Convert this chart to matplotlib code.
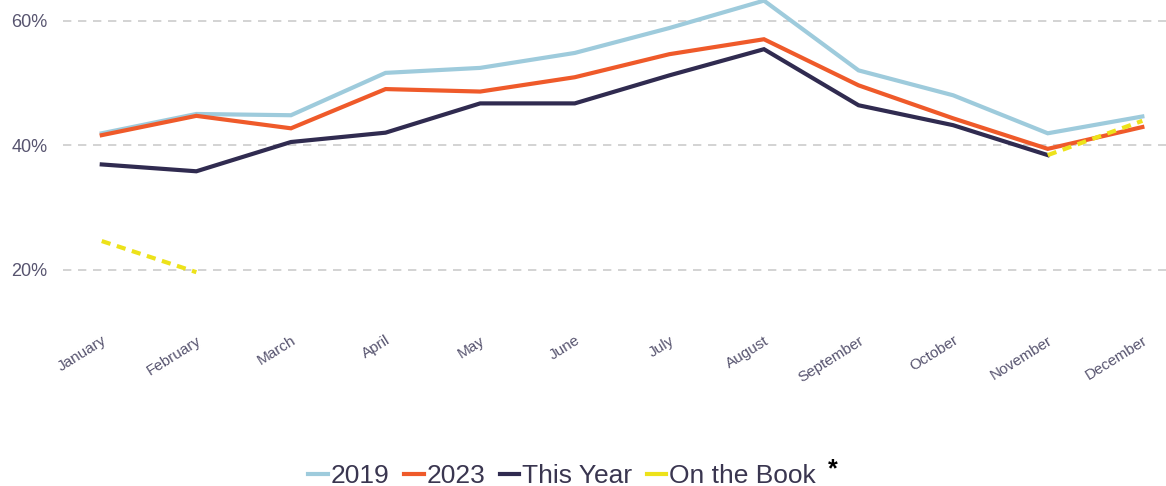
import numpy as np
import matplotlib
matplotlib.use('Agg')
import matplotlib.pyplot as plt
from matplotlib.lines import Line2D

# Monthly values (percent)
months = ["January", "February", "March", "April", "May", "June",
          "July", "August", "September", "October", "November", "December"]
y2019 = [41.9, 45.0, 44.8, 51.6, 52.4, 54.8, 58.8, 63.2, 52.0, 48.0, 41.9, 44.6]
y2023 = [41.6, 44.7, 42.7, 49.0, 48.6, 50.9, 54.6, 57.0, 49.6, 44.3, 39.4, 42.9]
this_year = [36.9, 35.8, 40.5, 42.0, 46.7, 46.7, 51.2, 55.4, 46.4, 43.2, 38.4, np.nan]
on_the_book = [24.6, 19.6, np.nan, np.nan, np.nan, np.nan,
               np.nan, np.nan, np.nan, np.nan, 38.4, 43.9]
y_ticks = [20, 40, 60]

text_color = '#57546f'
plt.rcParams['font.family'] = ['Liberation Sans', 'DejaVu Sans']

fig = plt.figure(figsize=(11.66, 4.86), dpi=100)
ax = fig.add_axes([0.054, 0.331, 0.946, 0.669])

x = np.arange(len(months))

# Lines
ax.plot(x, y2019, color='#9ecbdc', lw=3, solid_joinstyle='miter', zorder=3)
ax.plot(x, y2023, color='#ef5a2a', lw=3, solid_joinstyle='miter', zorder=4)
ax.plot(x, this_year, color='#302b50', lw=3, solid_joinstyle='miter', zorder=5)
ax.plot(x, on_the_book, color='#ede21a', lw=3, dashes=(2.2, 1.6), zorder=6)

ax.set_xlim(-0.41, 11.25)
ax.set_ylim(11.1, 63.3)

# Gridlines
ax.set_yticks(y_ticks)
ax.set_yticklabels([f"{v}%" for v in y_ticks])
ax.yaxis.grid(True, color='#cccccc', lw=1.2, dashes=(5, 4))
ax.set_axisbelow(True)

ax.set_xticks(x)
ax.set_xticklabels(months, rotation=32, ha='right', rotation_mode='anchor')

for s in ax.spines.values():
    s.set_visible(False)
ax.tick_params(axis='y', length=0, pad=11, labelsize=13, labelcolor=text_color)
ax.tick_params(axis='x', length=0, pad=6, labelsize=11, labelcolor=text_color)

# Legend below the plot
handles = [Line2D([], [], color=c, lw=3) for c in ['#9ecbdc', '#ef5a2a', '#302b50', '#ede21a']]
labels = ['2019', '2023', 'This Year', 'On the Book']
leg = fig.legend(handles, labels, loc='center', bbox_to_anchor=(0.482, 0.02),
                 ncol=4, frameon=False, fontsize=19, handlelength=0.75,
                 handletextpad=0.1, columnspacing=0.55, labelcolor='#3a3650')
fig.text(0.714, 0.035, '*', fontsize=18, fontweight='bold', color='black', ha='center', va='center')

fig.savefig('out.png', dpi=100)
